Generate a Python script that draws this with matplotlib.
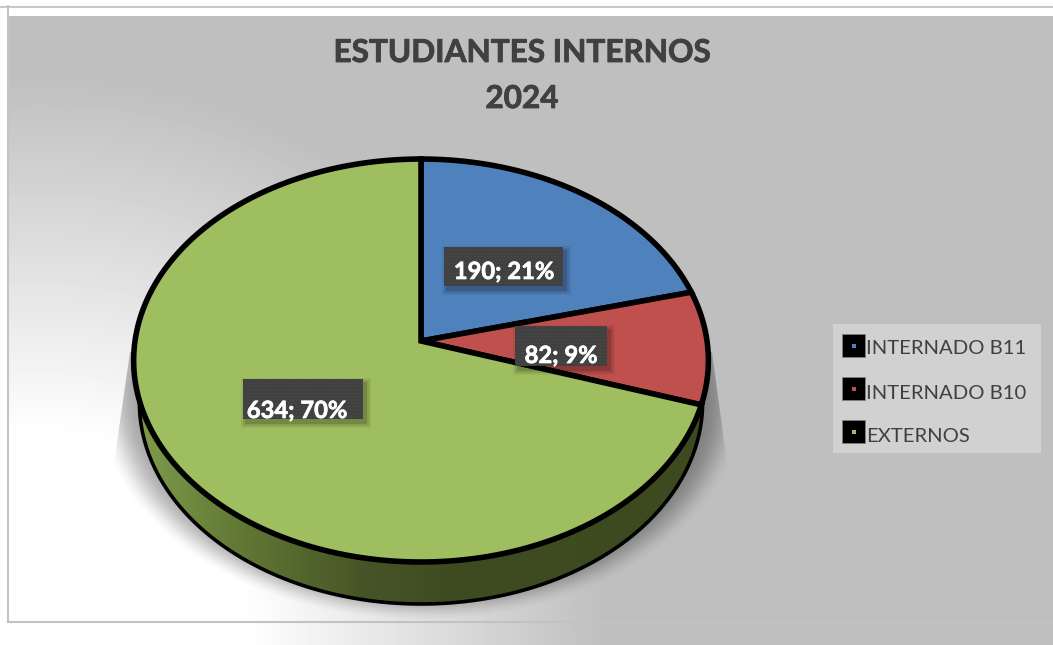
import matplotlib
matplotlib.use('Agg')
import matplotlib.patheffects as pe
import matplotlib.pyplot as plt
import numpy as np
from matplotlib.colors import LinearSegmentedColormap
from matplotlib.patches import Polygon, Rectangle

categories = ['INTERNADO B11', 'INTERNADO B10', 'EXTERNOS']
values = [190, 82, 634]
title_lines = ['ESTUDIANTES INTERNOS', '2024']
colors = ['#4f81bd', '#c0504d', '#9fbe5f']

plt.rcParams['font.family'] = ['Lato', 'DejaVu Sans']

W, H = 1053, 645
fig = plt.figure(figsize=(W / 100, H / 100), dpi=100)
ax = fig.add_axes([0, 0, 1, 1])
ax.axis('off')

# pixel grid for the background and the shadow
xx, yy = np.meshgrid(np.arange(W) + 0.5, np.arange(H) + 0.5)

# radial background, white in the lower left corner
dist = np.hypot(xx - 40, yy - 640)
t = np.clip((dist - 205) / 360, 0, 1)
bg = 255 - 64 * t
bg[yy < 16] = 255
bg[xx < 8] = 255
ax.imshow(bg, extent=[0, W, H, 0], cmap='gray', vmin=0, vmax=255, aspect='auto', zorder=0)

# chart frame
ax.plot([0, W], [6.5, 6.5], color='#c8c8c8', lw=1.5, zorder=1)
ax.plot([8, 8], [6, 622], color='#c4c4c4', lw=1.5, zorder=1)
ax.plot([8, W], [622, 622], color='#c2c2c2', lw=1.5, zorder=1)

# pie centre and perspective of the disc
cx, cy = 421, 341
a, b, k = 286, 199.6, 0.0968
depth = 42


def project(theta, scale=1.0, drop=0.0):
    den = 1 + k * np.cos(theta)
    return np.column_stack([cx + scale * a * np.sin(theta) / den,
                            cy + drop - b * np.cos(theta) / den])


# shadow under the pie
r = np.hypot((xx - 421) / 325, (yy - 400) / 222)
s = np.clip((1 - r) / 0.13, 0, 1)
shadow = np.zeros((H, W, 4))
shadow[..., 3] = 0.32 * s * s * (3 - 2 * s)
im = ax.imshow(shadow, extent=[0, W, H, 0], aspect='auto', zorder=2)
clip = Polygon([(130, 352), (113, 470), (113, 621), (728, 621), (728, 470), (712, 352)],
               transform=ax.transData, fc='none', ec='none')
ax.add_patch(clip)
im.set_clip_path(clip)

# side wall of the disc
wall_cmap = LinearSegmentedColormap.from_list(
    'wall', [(0, '#7f9c4a'), (0.2, '#5f7534'), (0.4, '#465527'), (0.55, '#3f4c21'), (1, '#3d4a20')])
grad = np.linspace(0, 1, 256).reshape(1, -1)
ring = np.linspace(0, 2 * np.pi, 400)
wall_pts = project(ring, 0.98, depth)
wall_im = ax.imshow(grad, extent=[135, 705, 610, 340], cmap=wall_cmap, aspect='auto', zorder=3)
wall = Polygon(wall_pts, transform=ax.transData, fc='none', ec='black', lw=2.6, zorder=4)
ax.add_patch(wall)
wall_im.set_clip_path(wall)

# top face, angles come from the values
shares = np.array(values) / sum(values)
edges = np.concatenate([[0], np.cumsum(shares)]) * 2 * np.pi
for i in range(len(values)):
    arc = np.linspace(edges[i], edges[i + 1], 200)
    pts = np.vstack([[cx, cy], project(arc)])
    ax.add_patch(Polygon(pts, closed=True, fc=colors[i], ec='black', lw=4,
                         joinstyle='miter', zorder=5))

# data labels
plt.rcParams['hatch.linewidth'] = 0.6
boxes = [(444, 247, 119, 39), (515, 326, 92, 40), (243, 379, 120, 40)]
text_pos = [(504, 279), (561, 363), (297, 418)]
heavy = [pe.withStroke(linewidth=0.5, foreground='white')]
for i in range(len(values)):
    x0, y0, w, h = boxes[i]
    for grow, alpha in [(5, 0.06), (3, 0.1), (1, 0.14)]:
        ax.add_patch(Rectangle((x0 + 3 - grow, y0 + 4 - grow), w + 2 * grow, h + 2 * grow,
                               fc='black', ec='none', alpha=alpha, zorder=6))
    ax.add_patch(Rectangle((x0, y0), w, h, fc='#404040', ec='#4c4c4c', lw=0, hatch='.....', zorder=7))
    label = f'{values[i]}; {shares[i] * 100:.0f}%'
    ax.text(text_pos[i][0], text_pos[i][1], label, color='white', fontsize=17.1, fontweight='bold',
            ha='center', va='baseline', zorder=8, path_effects=heavy)

# title
heavy_title = [pe.withStroke(linewidth=0.6, foreground='#404040')]
ax.text(522, 62, title_lines[0], color='#404040', fontsize=22.7, fontweight='bold', ha='center', va='baseline',
        zorder=8, path_effects=heavy_title)
ax.text(522, 108, title_lines[1], color='#404040', fontsize=22.7, fontweight='bold', ha='center', va='baseline',
        zorder=8, path_effects=heavy_title)

# legend
ax.add_patch(Rectangle((833, 324), 208, 129, fc='#d1d1d1', ec='none', zorder=6))
rows = [334, 377, 420]
baselines = [354, 399, 442]
for i in range(len(categories)):
    ax.add_patch(Rectangle((842, rows[i]), 23, 23, fc='black', ec='#808080', lw=0.6, zorder=7))
    ax.add_patch(Rectangle((851.5, rows[i] + 9.5), 4.5, 4, fc=colors[i], ec='none', zorder=8))
    ax.text(866, baselines[i], categories[i], color='#404040', fontsize=14.6, ha='left', va='baseline', zorder=8)

ax.set_xlim(0, W)
ax.set_ylim(H, 0)
fig.savefig('out.png', dpi=100)
